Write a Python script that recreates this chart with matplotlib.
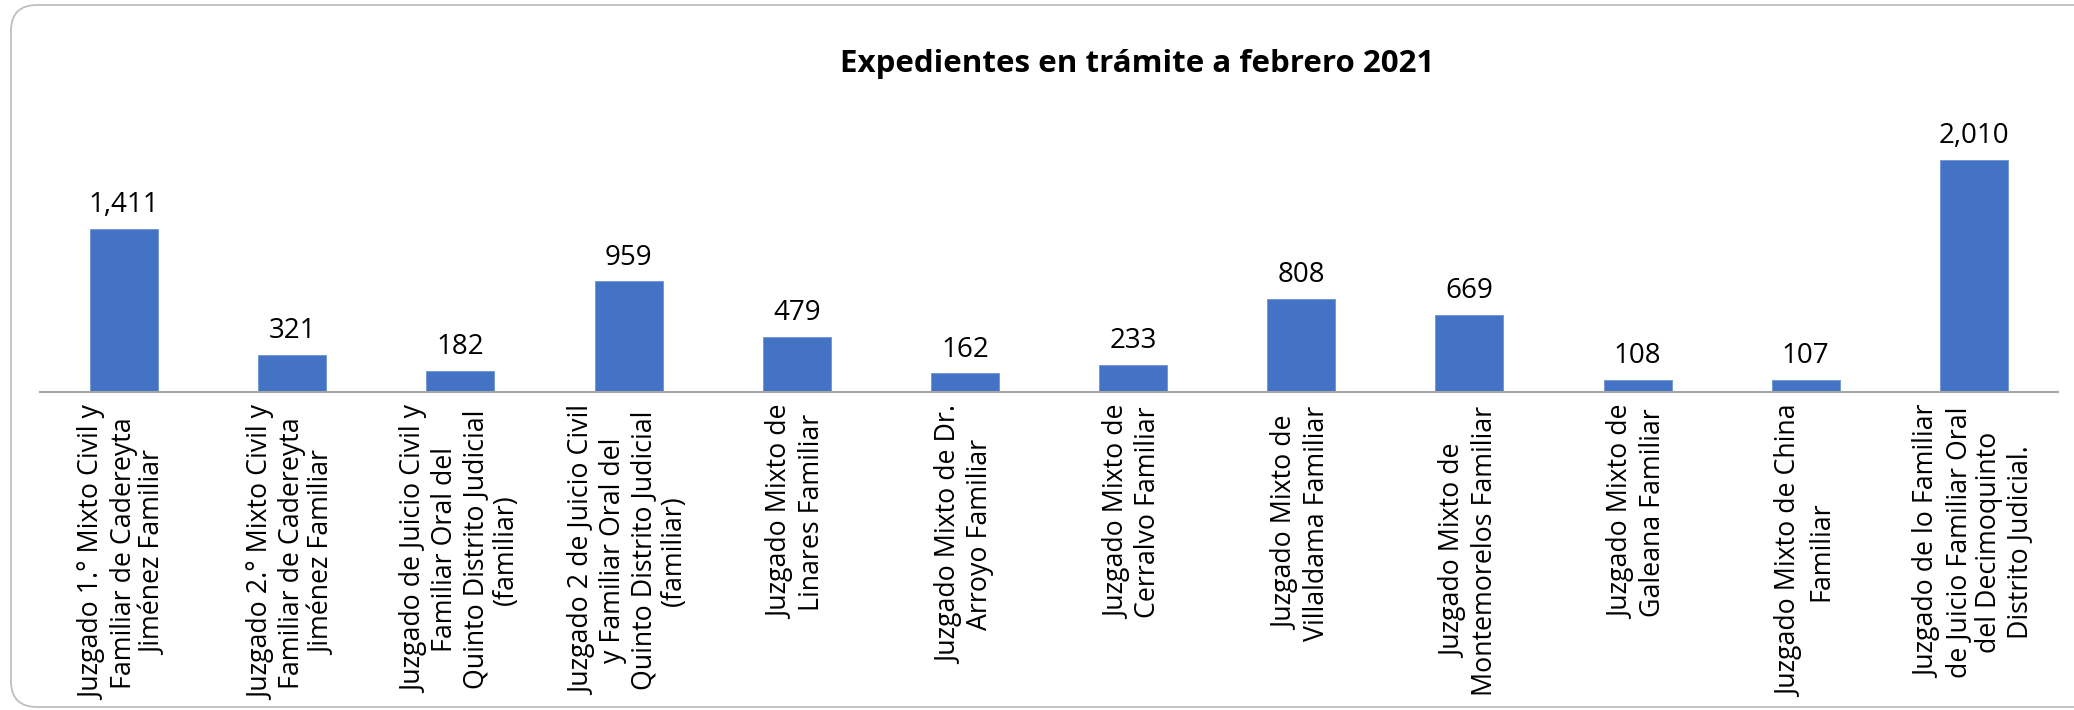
import matplotlib
matplotlib.use("Agg")
import matplotlib.pyplot as plt
from matplotlib.patches import FancyBboxPatch

plt.rcParams["font.family"] = ["Open Sans", "DejaVu Sans"]

TITLE = "Expedientes en trámite a febrero 2021"

juzgados = [
    "Juzgado 1.° Mixto Civil y\nFamiliar de Cadereyta\nJiménez Familiar",
    "Juzgado 2.° Mixto Civil y\nFamiliar de Cadereyta\nJiménez Familiar",
    "Juzgado de Juicio Civil y\nFamiliar Oral del\nQuinto Distrito Judicial\n(familiar)",
    "Juzgado 2 de Juicio Civil\ny Familiar Oral del\nQuinto Distrito Judicial\n(familiar)",
    "Juzgado Mixto de\nLinares Familiar",
    "Juzgado Mixto de Dr.\nArroyo Familiar",
    "Juzgado Mixto de\nCerralvo Familiar",
    "Juzgado Mixto de\nVillaldama Familiar",
    "Juzgado Mixto de\nMontemorelos Familiar",
    "Juzgado Mixto de\nGaleana Familiar",
    "Juzgado Mixto de China\nFamiliar",
    "Juzgado de lo Familiar\nde Juicio Familiar Oral\ndel Decimoquinto\nDistrito Judicial.",
]
expedientes = [1411, 321, 182, 959, 479, 162, 233, 808, 669, 108, 107, 2010]

W, H = 2074, 710
fig = plt.figure(figsize=(W / 100, H / 100), dpi=100)

# background axes in pixel units, for the rounded chart-area border
bg = fig.add_axes([0, 0, 1, 1], zorder=-1)
bg.set_xlim(0, W)
bg.set_ylim(H, 0)
bg.axis("off")
bg.add_patch(FancyBboxPatch((11, 5), W + 30, H - 8,
                            boxstyle="round,pad=0,rounding_size=26",
                            fc="white", ec="#BFBFBF", lw=1.3, clip_on=False))

ax = fig.add_axes([40 / W, 1 - 392 / H, (2058 - 40) / W, (392 - 103) / H])
ax.patch.set_alpha(0)
x = range(len(expedientes))
ax.bar(x, expedientes, width=0.405, color="#4472C4", edgecolor="#6E93D6", lw=0.6)
for xi, v in zip(x, expedientes):
    ax.annotate(f"{v:,}", (xi, v), xytext=(0, 17), textcoords="offset points",
                ha="center", va="center", fontsize=20, color="black")

ax.set_xlim(-0.5, len(expedientes) - 0.5)
ax.set_ylim(0, 2500)
ax.set_xticks(list(x))
ax.set_xticklabels(juzgados, rotation=90, fontsize=19.3, ha="center", va="top",
                   multialignment="center", linespacing=1.12)
ax.tick_params(axis="x", length=0, pad=10)
ax.set_yticks([])
for s in ["top", "right", "left"]:
    ax.spines[s].set_visible(False)
ax.spines["bottom"].set_color("#A6A6A6")
ax.spines["bottom"].set_linewidth(1.5)

fig.text(1137 / W, 1 - 64 / H, TITLE, ha="center", va="center",
         fontsize=22.5, fontweight="bold")

fig.savefig("out.png", dpi=100, facecolor="white")
